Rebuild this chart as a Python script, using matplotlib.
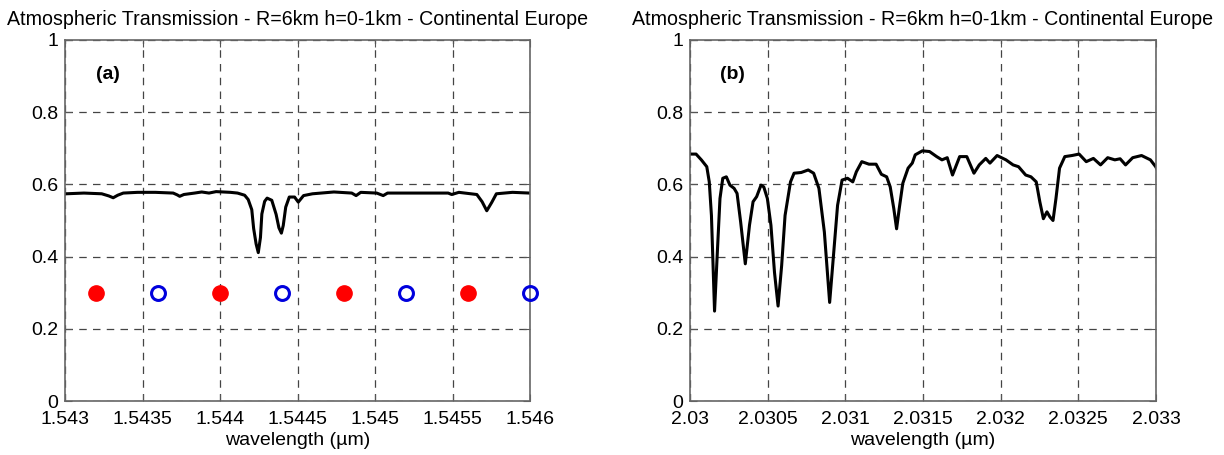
import numpy as np
import matplotlib
matplotlib.use('Agg')
import matplotlib.pyplot as plt

plt.rcParams['font.family'] = ['Liberation Sans', 'DejaVu Sans']

# Panel (a): 1.543 - 1.546 um
wl_a = [1.543007, 1.543122, 1.543237, 1.543283, 1.543311, 1.543340, 1.543376, 1.543468,
        1.543583, 1.543698, 1.543724, 1.543740, 1.543767, 1.543836, 1.543882, 1.543929,
        1.543975, 1.544067, 1.544113, 1.544159, 1.544182, 1.544205, 1.544217, 1.544233,
        1.544247, 1.544261, 1.544270, 1.544288, 1.544304, 1.544334, 1.544362, 1.544380,
        1.544396, 1.544408, 1.544424, 1.544447, 1.544481, 1.544505, 1.544539, 1.544597,
        1.544735, 1.544850, 1.544878, 1.544908, 1.545011, 1.545053, 1.545081, 1.545311,
        1.545472, 1.545495, 1.545541, 1.545657, 1.545691, 1.545721, 1.545753, 1.545783,
        1.545887, 1.545998]
tr_a = [0.574, 0.576, 0.574, 0.568, 0.563, 0.570, 0.576, 0.578,
        0.578, 0.576, 0.571, 0.567, 0.572, 0.576, 0.579, 0.576,
        0.580, 0.578, 0.576, 0.570, 0.558, 0.530, 0.478, 0.435,
        0.411, 0.453, 0.518, 0.553, 0.562, 0.556, 0.517, 0.480,
        0.465, 0.486, 0.537, 0.565, 0.565, 0.551, 0.569, 0.574,
        0.579, 0.576, 0.569, 0.578, 0.576, 0.569, 0.576, 0.576,
        0.576, 0.572, 0.578, 0.572, 0.552, 0.527, 0.550, 0.574,
        0.578, 0.576]

# channel markers in panel (a)
ch_red = [1.5432, 1.5440, 1.5448, 1.5456]
ch_blue = [1.5436, 1.5444, 1.5452, 1.5460]
ch_level = 0.3

# Panel (b): 2.030 - 2.033 um
wl_b = [2.030005, 2.030039, 2.030073, 2.030108, 2.030124, 2.030138, 2.030158, 2.030177,
        2.030193, 2.030211, 2.030234, 2.030257, 2.030284, 2.030303, 2.030326, 2.030356,
        2.030383, 2.030406, 2.030429, 2.030457, 2.030475, 2.030498, 2.030521, 2.030544,
        2.030567, 2.030590, 2.030612, 2.030647, 2.030670, 2.030716, 2.030761, 2.030796,
        2.030830, 2.030865, 2.030899, 2.030922, 2.030950, 2.030979, 2.031014, 2.031048,
        2.031071, 2.031106, 2.031152, 2.031198, 2.031232, 2.031266, 2.031289, 2.031312,
        2.031330, 2.031347, 2.031370, 2.031404, 2.031431, 2.031450, 2.031496, 2.031542,
        2.031588, 2.031622, 2.031656, 2.031690, 2.031736, 2.031782, 2.031828, 2.031862,
        2.031904, 2.031931, 2.031977, 2.032034, 2.032080, 2.032115, 2.032161, 2.032195,
        2.032229, 2.032252, 2.032275, 2.032298, 2.032317, 2.032337, 2.032356, 2.032379,
        2.032413, 2.032459, 2.032505, 2.032551, 2.032597, 2.032643, 2.032689, 2.032735,
        2.032769, 2.032804, 2.032850, 2.032907, 2.032964, 2.032998, 2.033025]
tr_b = [0.684, 0.684, 0.668, 0.649, 0.607, 0.514, 0.249, 0.421,
        0.561, 0.617, 0.621, 0.598, 0.589, 0.575, 0.496, 0.380,
        0.487, 0.552, 0.566, 0.598, 0.593, 0.561, 0.487, 0.356,
        0.263, 0.375, 0.514, 0.607, 0.631, 0.633, 0.640, 0.631,
        0.589, 0.468, 0.273, 0.394, 0.542, 0.612, 0.617, 0.607,
        0.635, 0.663, 0.656, 0.656, 0.628, 0.621, 0.593, 0.533,
        0.477, 0.533, 0.603, 0.645, 0.659, 0.682, 0.693, 0.691,
        0.677, 0.668, 0.674, 0.626, 0.677, 0.677, 0.631, 0.654,
        0.672, 0.659, 0.680, 0.668, 0.654, 0.649, 0.626, 0.621,
        0.607, 0.552, 0.505, 0.524, 0.510, 0.500, 0.561, 0.645,
        0.677, 0.680, 0.684, 0.663, 0.672, 0.654, 0.674, 0.668,
        0.671, 0.654, 0.674, 0.680, 0.668, 0.649, 0.626]

xticks_a = [1.543, 1.5435, 1.544, 1.5445, 1.545, 1.5455, 1.546]
xlabels_a = ['1.543', '1.5435', '1.544', '1.5445', '1.545', '1.5455', '1.546']
xticks_b = [2.03, 2.0305, 2.031, 2.0315, 2.032, 2.0325, 2.033]
xlabels_b = ['2.03', '2.0305', '2.031', '2.0315', '2.032', '2.0325', '2.033']
yticks = [0, 0.2, 0.4, 0.6, 0.8, 1]
ylabels = ['0', '0.2', '0.4', '0.6', '0.8', '1']

title = 'Atmospheric Transmission - R=6km h=0-1km - Continental Europe'
fs = 14

fig = plt.figure(figsize=(12.24, 4.55), dpi=100)
ax_a = fig.add_axes([65 / 1224, 54 / 455, 465 / 1224, 361 / 455])
ax_b = fig.add_axes([690 / 1224, 54 / 455, 466 / 1224, 361 / 455])


def style(ax, xticks, xlabels, tag):
    ax.set_xlim(xticks[0], xticks[-1])
    ax.set_ylim(0, 1)
    ax.set_xticks(xticks)
    ax.set_xticklabels(xlabels)
    ax.set_yticks(yticks)
    ax.set_yticklabels(ylabels)
    ax.tick_params(direction='in', length=5, width=0.8, color='#555555',
                   top=True, right=True, labelsize=fs, pad=7)
    ax.tick_params(axis='y', pad=5)
    ax.grid(True, color='#444444', linestyle=(0, (6, 5)), linewidth=0.9)
    for s in ax.spines.values():
        s.set_color('#666666')
        s.set_linewidth(1.2)
    ax.set_xlabel('wavelength (µm)', fontsize=fs, labelpad=3)
    ax.set_title(title, fontsize=14.1, pad=11)
    ax.text(0.092, 0.905, tag, transform=ax.transAxes, fontsize=14,
            fontweight='bold', ha='center', va='center')


ax_a.plot(wl_a, tr_a, color='black', linewidth=2.2)
ax_a.plot(ch_red, [ch_level] * len(ch_red), 'o', color='red', markersize=11,
          markeredgecolor='red', clip_on=False, zorder=4)
ax_a.plot(ch_blue, [ch_level] * len(ch_blue), 'o', markerfacecolor='none',
          markeredgecolor='#0000dd', markersize=10, markeredgewidth=2.2,
          clip_on=False, zorder=4)
style(ax_a, xticks_a, xlabels_a, '(a)')

ax_b.plot(wl_b, tr_b, color='black', linewidth=2.2)
style(ax_b, xticks_b, xlabels_b, '(b)')

plt.savefig('out.png', dpi=100)
